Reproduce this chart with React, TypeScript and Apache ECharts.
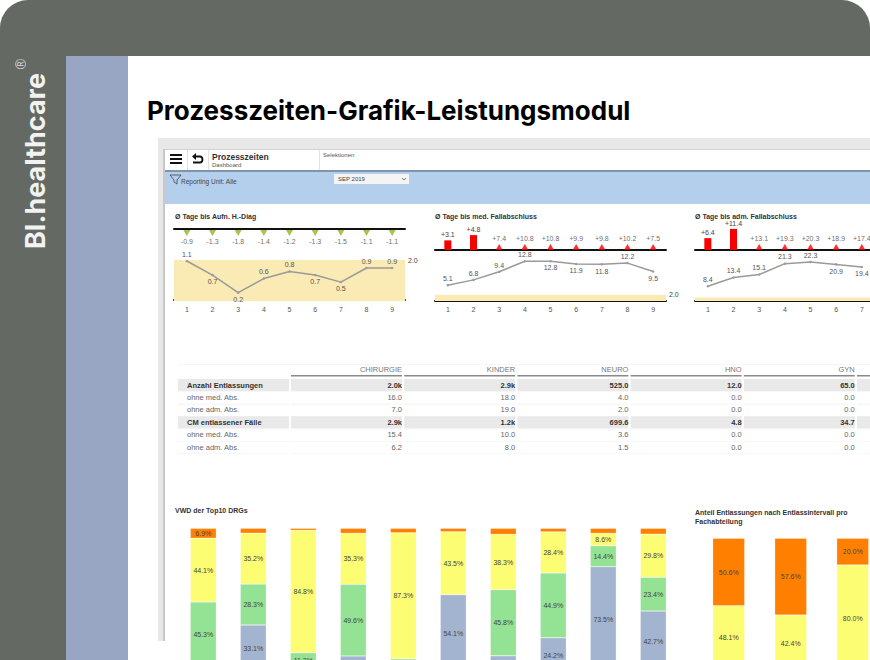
import React, { useEffect, useRef } from 'react';
import * as echarts from 'echarts';

// mini charts, top row
const slots = ['1', '2', '3', '4', '5', '6', '7', '8', '9'];
const aufnDelta = [-0.9, -1.3, -1.8, -1.4, -1.2, -1.3, -1.5, -1.1, -1.1];
const medDelta = [3.1, 4.8, 7.4, 10.8, 10.8, 9.9, 9.8, 10.2, 7.5];
const admDelta = [6.4, 11.4, 13.1, 19.3, 20.3, 18.9, 17.4];
const aufnDays = [1.1, 0.7, 0.2, 0.6, 0.8, 0.7, 0.5, 0.9, 0.9];
const medDays = [5.1, 6.8, 9.4, 12.8, 12.8, 11.9, 11.8, 12.2, 9.5];
const admDays = [8.4, 13.4, 15.1, 21.3, 22.3, 20.9, 19.4];
const targetDays = 2.0;

// table
const tableCols = ['CHIRURGIE', 'KINDER', 'NEURO', 'HNO', 'GYN'];
const tableRows = ['Anzahl Entlassungen', 'ohne med. Abs.', 'ohne adm. Abs.', 'CM entlassener Fälle', 'ohne med. Abs.', 'ohne adm. Abs.'];
const chirurgie = ['2.0k', '16.0', '7.0', '2.9k', '15.4', '6.2'];
const kinder = ['2.9k', '18.0', '19.0', '1.2k', '10.0', '8.0'];
const neuro = ['525.0', '4.0', '2.0', '699.6', '3.6', '1.5'];
const hno = ['12.0', '0.0', '0.0', '4.8', '0.0', '0.0'];
const gyn = ['65.0', '0.0', '0.0', '34.7', '0.0', '0.0'];
const tableValues = [chirurgie, kinder, neuro, hno, gyn];

// stacked bars, top10 DRGs
const drgs = ['1', '2', '3', '4', '5', '6', '7', '8', '9', '10'];
const drgOrange = [6.9, 3.4, 1.4, 3.5, 3.1, 2.4, 4.2, 2.5, 3.5, 4.1];
const drgYellow = [44.1, 35.2, 84.8, 35.3, 87.3, 43.5, 38.3, 28.4, 8.6, 29.8];
const drgGreen = [45.3, 28.3, 11.3, 49.6, 9.6, 0, 45.8, 44.9, 14.4, 23.4];
const drgBlue = [3.7, 33.1, 2.5, 11.6, 0, 54.1, 11.7, 24.2, 73.5, 42.7];

// stacked bars, Fachabteilung
const depts = ['CHIRURGIE', 'KINDER', 'NEURO'];
const deptOrange = [50.6, 57.6, 20.0];
const deptYellow = [48.1, 42.4, 80.0];
const deptGreen = [1.3, 0, 0];

const ORANGE = '#ff8000';
const YELLOW = '#fdfd74';
const GREEN = '#94e294';
const BLUE = '#a3b4d0';
const FONT = '"Liberation Sans", Arial, sans-serif';
const PAGE_BOTTOM = 663;

const grids: any[] = [];
const xAxes: any[] = [];
const yAxes: any[] = [];
const series: any[] = [];

// delta row: bars up to the cap, triangles on the axis above it
function addDeltaChart(left: number, top: number, height: number, max: number, cap: number, values: number[], color: string, down: boolean) {
  const g = grids.length;
  grids.push({ left, top, width: 231, height, outerBoundsMode: 'none' });
  xAxes.push({
    gridIndex: g, type: 'category', data: slots,
    axisLine: { lineStyle: { color: '#111', width: 2 } },
    axisTick: { show: false }, axisLabel: { show: false },
  });
  const y = yAxes.length;
  yAxes.push({ gridIndex: g, type: 'value', min: 0, max, show: false });
  const text = (p: any) => (down ? '' : '+') + values[p.dataIndex].toFixed(1);
  series.push({
    type: 'bar', xAxisIndex: g, yAxisIndex: y, barWidth: 7,
    data: values.map((v) => (v <= cap && !down ? v : null)),
    itemStyle: { color },
    label: { show: true, position: 'top', distance: 2, fontSize: 7, color: '#444', fontFamily: FONT, formatter: text },
  });
  series.push({
    type: 'scatter', xAxisIndex: g, yAxisIndex: y, symbol: 'triangle',
    symbolSize: [7, 6], symbolRotate: down ? 180 : 0, symbolOffset: [0, down ? 4 : -3],
    data: values.map((v, i) => (down || v > cap ? [i, 0] : [i, null])),
    itemStyle: { color },
    label: { show: true, position: down ? 'bottom' : 'top', distance: 2, fontSize: 7, color: '#444', fontFamily: FONT, formatter: text },
  });
}

// line over a target band; the band has its own scale with the label on the right.
// The third chart runs past the page edge, so only its visible labels are drawn.
function addLineChart(left: number, values: number[], below: number[], lineMin: number, lineMax: number, bandMax: number, clipped = false) {
  const g = grids.length;
  grids.push({ left, top: 260, width: 231, height: 41, outerBoundsMode: 'none' });
  xAxes.push({
    gridIndex: g, type: 'category', data: slots,
    axisLine: { lineStyle: { color: '#111', width: 2 } },
    axisTick: { show: false },
    axisLabel: {
      fontSize: 7, color: '#555', margin: 5, fontFamily: FONT,
      interval: (i: number) => !clipped || i < values.length,
    },
  });
  const yLine = yAxes.length;
  yAxes.push({ gridIndex: g, type: 'value', min: lineMin, max: lineMax, show: false });
  const yBand = yAxes.length;
  yAxes.push({
    gridIndex: g, type: 'value', position: 'right', min: 0, max: bandMax,
    axisLine: { show: false }, axisTick: { show: false }, splitLine: { show: false },
    axisLabel: { show: !clipped, fontSize: 7, color: '#444', margin: 3, fontFamily: FONT, customValues: [targetDays], formatter: (v: number) => v.toFixed(1) },
  });
  series.push({
    type: 'line', xAxisIndex: g, yAxisIndex: yBand, data: [], silent: true,
    markArea: { silent: true, itemStyle: { color: '#faeab3' }, data: [[{ yAxis: 0 }, { yAxis: targetDays }]] },
  });
  series.push({
    type: 'line', xAxisIndex: g, yAxisIndex: yLine,
    data: values.map((v, i) => ({
      value: v,
      label: { position: below.includes(i) ? 'bottom' : 'top' },
    })),
    lineStyle: { color: '#9a9a9a', width: 1.5 },
    itemStyle: { color: '#9a9ab0' }, symbol: 'circle', symbolSize: 2.5,
    label: { show: true, distance: 2, fontSize: 7, color: '#555', fontFamily: FONT, formatter: (p: any) => p.value.toFixed(1) },
  });
}

function addStack(left: number, width: number, top: number, height: number, cats: string[], barWidth: number, stacks: [number[], string][]) {
  const g = grids.length;
  grids.push({ left, top, width, height, outerBoundsMode: 'none' });
  xAxes.push({ gridIndex: g, type: 'category', data: cats, show: false });
  const y = yAxes.length;
  yAxes.push({ gridIndex: g, type: 'value', min: 0, max: 100, show: false });
  stacks.forEach(([data, color], s) => {
    // middle of this segment on the page, to skip labels that fall below it
    const middle = (i: number) => {
      const below = stacks.slice(0, s).reduce((sum, [d]) => sum + d[i], 0);
      return top + (height * (100 - below - data[i] / 2)) / 100;
    };
    series.push({
      type: 'bar', xAxisIndex: g, yAxisIndex: y, stack: 'share' + g, barWidth, data,
      itemStyle: { color, borderColor: '#fff', borderWidth: 0.5, borderType: 'dotted' },
      label: {
        show: true, position: 'inside', fontSize: 7, color: '#444', fontFamily: FONT,
        formatter: (p: any) => (p.value >= 5 && middle(p.dataIndex) < PAGE_BOTTOM ? p.value.toFixed(1) + '%' : ''),
      },
    });
  });
}

addDeltaChart(174, 219, 10, 1, 0, aufnDelta, '#8cb820', true);
addLineChart(174, aufnDays, [1, 2, 5, 6], -0.037, 1.128, 2);
addDeltaChart(435, 230, 20, 6.45, 5, medDelta, '#f60000', false);
addLineChart(435, medDays, [4, 5, 6, 8], 0, 13.2, 13.2);
addDeltaChart(695, 225, 25, 13.5, 12, admDelta, '#f60000', false);
addLineChart(695, admDays, [5, 6], 0, 23.4, 23.4, true);
addStack(178.3, 500, 528.3, 144.4, drgs, 26, [[drgBlue, BLUE], [drgGreen, GREEN], [drgYellow, YELLOW], [drgOrange, ORANGE]]);
addStack(697.7, 186, 538.3, 133.3, depts, 32, [[deptGreen, GREEN], [deptYellow, YELLOW], [deptOrange, ORANGE]]);

const chartTitles = [
  { text: 'Ø Tage bis Aufn. H.-Diag', left: 175, top: 212 },
  { text: 'Ø Tage bis med. Fallabschluss', left: 435, top: 212 },
  { text: 'Ø Tage bis adm. Fallabschluss', left: 695, top: 212 },
  { text: 'VWD der Top10 DRGs', left: 175, top: 506 },
  { text: 'Anteil Entlassungen nach Entlassintervall pro\nFachabteilung', left: 695, top: 508 },
];

echarts.graphic.registerShape(
  'backArrow',
  echarts.graphic.extendPath('M4 0 L0 3.5 L4 7 L4 4.6 L8 4.6 C10 4.6 10 8.6 8 8.6 L1 8.6 L1 10.6 L8 10.6 C12.6 10.6 12.6 2.6 8 2.6 L4 2.6 Z', {}),
);

function rect(x: number, y: number, width: number, height: number, fill: string, r?: number[]) {
  return { type: 'rect', shape: { x, y, width, height, r }, style: { fill } };
}

function label(text: string, x: number, y: number, fontSize: number, fill: string, extra: any = {}) {
  return {
    type: 'text', x, y,
    style: { text, fontSize, fill, fontFamily: FONT, verticalAlign: 'middle', align: 'left', ...extra },
  };
}

function tableElements() {
  const out: any[] = [];
  const colLeft = (c: number) => 291 + c * 113.2;
  const rowY = (r: number) => 385 + r * 12.4;
  out.push(rect(178, 364, 692, 0.6, '#eeeeee'));
  tableCols.concat(['']).forEach((name, c) => {
    out.push(rect(colLeft(c), 375, 111, 1.6, '#8a8a8a'));
    if (name) out.push(label(name, colLeft(c) + 111, 369, 7.5, '#777', { align: 'right' }));
  });
  tableRows.forEach((name, r) => {
    const bold = r === 0 || r === 3;
    const weight = bold ? { fontWeight: 'bold' } : {};
    [178, ...tableCols.concat(['']).map((_, c) => colLeft(c))].forEach((x) => {
      out.push(rect(x, rowY(r) - 6, 111, bold ? 12 : 0.6, bold ? '#e9e9e9' : '#f0f0f0'));
      if (r === 5) out.push(rect(x, rowY(r) + 6, 111, 0.6, '#f0f0f0'));
    });
    out.push(label(name, 187, rowY(r), 7.5, bold ? '#333' : '#666', weight));
    tableValues.forEach((col, c) => {
      out.push(label(col[r], colLeft(c) + 111, rowY(r), 7.5, bold ? '#333' : '#666', { align: 'right', ...weight }));
    });
  });
  return out;
}

const chrome: any[] = [
  rect(0, 0, 870, 660, '#646964', [28, 28, 0, 0]),
  rect(66, 56, 62, 604, '#98a6c4'),
  rect(128, 56, 742, 604, '#ffffff'),
  {
    type: 'text', x: 35, y: 249, rotation: Math.PI / 2,
    style: { text: 'BI.healthcare', fontSize: 27, fontWeight: 'bold', fill: '#f2f2f2', fontFamily: 'Inter', align: 'left', verticalAlign: 'middle' },
  },
  {
    type: 'text', x: 21, y: 64, rotation: Math.PI / 2,
    style: { text: '®', fontSize: 14, fill: '#d8d8d8', fontFamily: FONT, align: 'center', verticalAlign: 'middle' },
  },
  {
    type: 'text', x: 147, y: 110.5,
    style: { text: 'Prozesszeiten-Grafik-Leistungsmodul', fontSize: 26, fontWeight: 'bold', fill: '#000', fontFamily: 'Inter', align: 'left', verticalAlign: 'middle' },
  },
  rect(158, 138, 712, 503, '#e8e8e8'),
  rect(163, 149, 2, 492, '#c8c8c8'),
  rect(165, 149, 705, 511, '#ffffff'),
  rect(165, 149, 705, 0.8, '#c4c4c4'),
  rect(187, 149, 0.7, 21, '#d4d4d4'),
  rect(208, 149, 0.7, 21, '#d4d4d4'),
  rect(319, 149, 0.7, 21, '#d4d4d4'),
  rect(170, 154, 12, 2, '#111'),
  rect(170, 158, 12, 2, '#111'),
  rect(170, 162, 12, 2, '#111'),
  { type: 'backArrow', x: 192, y: 153, style: { fill: '#111' } },
  label('Prozesszeiten', 212, 156.5, 8.5, '#333', { fontWeight: 'bold' }),
  label('Dashboard', 212, 164.5, 6, '#555'),
  label('Selektionen', 323, 155, 6, '#555'),
  rect(165, 170, 705, 2, '#7f94ad'),
  rect(165, 172, 705, 32, '#b4cfec'),
  { type: 'polygon', shape: { points: [[170, 175], [181, 175], [177, 180], [177, 184], [174, 182], [174, 180]] }, style: { fill: 'none', stroke: '#444', lineWidth: 0.8 } },
  label('Reporting Unit: Alle', 181, 181.5, 6.5, '#444'),
  rect(334, 174, 75, 10, '#f4f4f4'),
  label('SEP 2019', 338, 179, 6, '#444'),
  { type: 'polyline', shape: { points: [[402, 178], [404, 180], [406, 178]] }, style: { fill: 'none', stroke: '#555', lineWidth: 0.8 } },
  ...tableElements(),
];

const App: React.FC = () => {
  const chartRef = useRef<HTMLDivElement>(null);

  useEffect(() => {
    if (!chartRef.current) return;
    const chart = echarts.init(chartRef.current, undefined, { renderer: 'svg' });
    chart.setOption({
      animation: false,
      title: chartTitles.map((t) => ({
        ...t,
        padding: 0,
        textStyle: { fontSize: 7, fontWeight: 'bold', color: '#333', fontFamily: FONT, lineHeight: 9 },
      })),
      graphic: { elements: chrome },
      grid: grids,
      xAxis: xAxes,
      yAxis: yAxes,
      series,
    });
    return () => chart.dispose();
  }, []);

  return <div ref={chartRef} style={{ position: 'fixed', left: 0, top: 0, width: 870, height: 660, background: '#fff' }} />;
};

export default App;
